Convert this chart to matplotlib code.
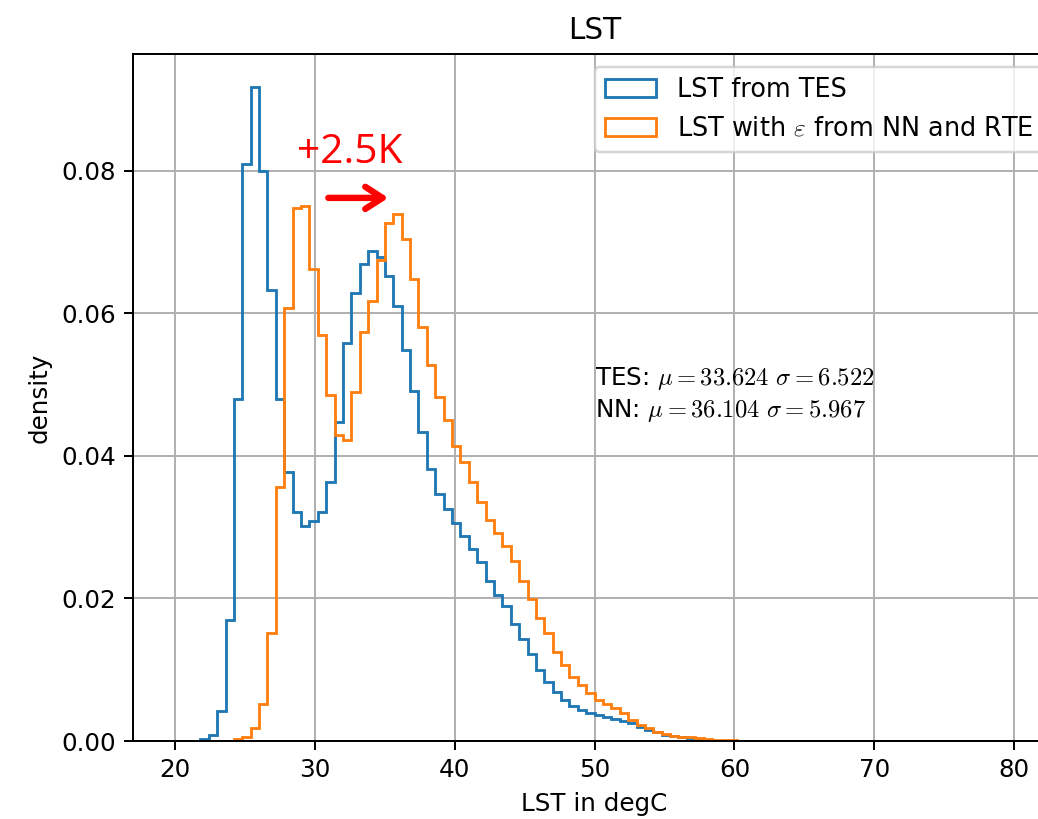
import matplotlib
matplotlib.use("Agg")
import matplotlib.pyplot as plt
import numpy as np

plt.rcParams['mathtext.fontset'] = 'cm'

# 100 Bins von 20 bis 80 degC, Dichtewerte
bin_edges = np.linspace(20, 80, 101)

tes_density = [
    0, 0, 0, 0.0003, 0.0008, 0.0042, 0.0170, 0.0480, 0.0809, 0.0918,
    0.0800, 0.0633, 0.0480, 0.0378, 0.0321, 0.0301, 0.0308, 0.0321, 0.0363, 0.0447,
    0.0558, 0.0629, 0.0669, 0.0687, 0.0679, 0.0653, 0.0610, 0.0548, 0.0491, 0.0433,
    0.0382, 0.0347, 0.0325, 0.0306, 0.0287, 0.0270, 0.0251, 0.0225, 0.0205, 0.0190,
    0.0164, 0.0143, 0.0122, 0.0099, 0.0083, 0.0069, 0.0058, 0.0049, 0.0044, 0.0040,
    0.0037, 0.0034, 0.0031, 0.0028, 0.0025, 0.0020, 0.0015, 0.0012, 0.0009, 0.0007,
    0.0005, 0.0004, 0.0002, 0.0001, 0, 0, 0, 0, 0, 0,
    0, 0, 0, 0, 0, 0, 0, 0, 0, 0,
    0, 0, 0, 0, 0, 0, 0, 0, 0, 0,
    0, 0, 0, 0, 0, 0, 0, 0, 0, 0,
]

nn_density = [
    0, 0, 0, 0, 0, 0, 0, 0.0003, 0.0005, 0.0018,
    0.0052, 0.0151, 0.0356, 0.0607, 0.0748, 0.0750, 0.0662, 0.0570, 0.0486, 0.0429,
    0.0423, 0.0489, 0.0574, 0.0617, 0.0675, 0.0727, 0.0739, 0.0705, 0.0648, 0.0581,
    0.0528, 0.0483, 0.0451, 0.0414, 0.0391, 0.0363, 0.0336, 0.0310, 0.0292, 0.0274,
    0.0253, 0.0225, 0.0199, 0.0173, 0.0151, 0.0125, 0.0107, 0.0090, 0.0079, 0.0068,
    0.0058, 0.0052, 0.0046, 0.0039, 0.0029, 0.0022, 0.0018, 0.0013, 0.0010, 0.0007,
    0.0006, 0.0005, 0.0004, 0.0003, 0.0002, 0.0001, 0.0001, 0, 0, 0,
    0, 0, 0, 0, 0, 0, 0, 0, 0, 0,
    0, 0, 0, 0, 0, 0, 0, 0, 0, 0,
    0, 0, 0, 0, 0, 0, 0, 0, 0, 0,
]

labels = ['LST from TES', r'LST with $\varepsilon$ from NN and RTE']
stats_text = ("TES: $\\mu=33.624$ $\\sigma=6.522$\n"
              "NN: $\\mu=36.104$ $\\sigma=5.967$")

centers = 0.5 * (bin_edges[:-1] + bin_edges[1:])

fig = plt.figure(figsize=(1038 / 177, 819 / 177), dpi=177)
# Achse geht rechts ueber den Bildrand hinaus (Original ist abgeschnitten)
ax = fig.add_axes([0.1284, 0.0952, 0.8889, 0.8389])

ax.hist(centers, bins=bin_edges, weights=tes_density, histtype='step',
        color='C0', linewidth=1.15, label=labels[0])
ax.hist(centers, bins=bin_edges, weights=nn_density, histtype='step',
        color='C1', linewidth=1.15, label=labels[1])

ax.grid(True)
ax.set_title('LST')
ax.set_xlabel('LST in degC')
ax.set_ylabel('density')
ax.set_yticks([0.0, 0.02, 0.04, 0.06, 0.08])
ax.legend(loc='upper right', fontsize=10.4)

ax.text(50, 0.0455, stats_text, linespacing=1.25)

# Verschiebung markieren
ax.text(32.45, 0.0826, '+2.5K', color='red', fontsize=16.5,
        family=['Open Sans', 'DejaVu Sans'], ha='center', va='center')
ax.annotate('', xy=(35.6, 0.0762), xytext=(30.6, 0.0762),
            arrowprops=dict(arrowstyle='->,head_length=0.7,head_width=0.45',
                            color='red', lw=2.6))

fig.savefig('out.png', dpi=177)
